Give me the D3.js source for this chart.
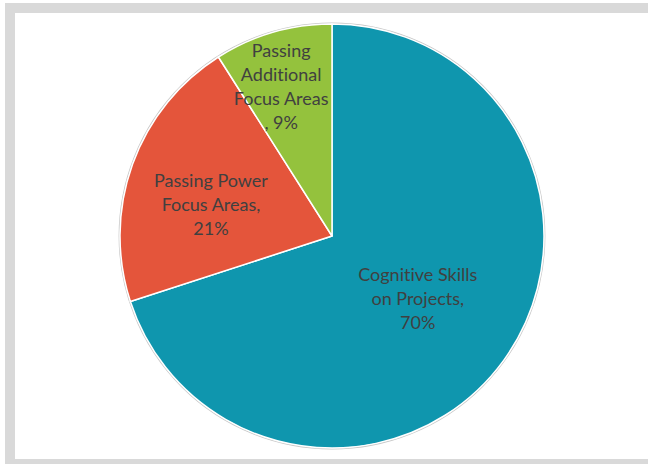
<!DOCTYPE html>
<html>
<head>
<meta charset="utf-8">
<script src="https://cdn.jsdelivr.net/npm/d3@7"></script>
<style>
html,body{margin:0;padding:0;background:#fff;}
svg{display:block;}
text{font-variant-ligatures:none;font-feature-settings:"liga" 0;}
</style>
</head>
<body>
<svg id="chart" width="648" height="464"></svg>
<script>
const categories = ["Cognitive Skills on Projects", "Passing Power Focus Areas", "Passing Additional Focus Areas"];
const values = [70, 21, 9];
const labelLines = [
  ["Cognitive Skills", "on Projects,", "70%"],
  ["Passing Power", "Focus Areas,", "21%"],
  ["Passing", "Additional", "Focus Areas", ", 9%"]
];
const colors = ["#0f96ae", "#e4553b", "#94c23d"];

const W = 648, H = 464;
const svg = d3.select("#chart");

// frame
svg.append("rect")
  .attr("x", 10).attr("y", 8)
  .attr("width", W + 20).attr("height", 456)
  .attr("fill", "none")
  .attr("stroke", "#d9d9d9")
  .attr("stroke-width", 10);

const cx = 332, cy = 236, R = 212;
const g = svg.append("g").attr("transform", `translate(${cx},${cy})`);

const pie = d3.pie().sort(null).value(d => d.value);
const data = pie(categories.map((c, i) => ({cat: c, value: values[i], lines: labelLines[i], color: colors[i]})));

const arc = d3.arc().innerRadius(0).outerRadius(R);

// outer soft outline
g.append("circle").attr("r", R + 0.8).attr("fill", "none").attr("stroke", "#c8c8c8").attr("stroke-width", 1.2);

g.selectAll("path.slice").data(data).enter().append("path")
  .attr("class", "slice")
  .attr("d", arc)
  .attr("fill", d => d.data.color)
  .attr("stroke", "#ffffff")
  .attr("stroke-width", 1.5)
  .attr("stroke-linejoin", "round");

// label placement: radius fraction and angle shift (radians) relative to slice bisector
const labelRadiusFrac = [0.5, 0.59, 0.745];
const labelAngleShift = [0, -0.09, -0.045];
const lineH = 24;

data.forEach((d, i) => {
  const a = (d.startAngle + d.endAngle) / 2 + labelAngleShift[i];
  const r = R * labelRadiusFrac[i];
  const x = Math.sin(a) * r;
  const y = -Math.cos(a) * r;
  const n = d.data.lines.length;
  const t = g.append("text")
    .attr("x", x).attr("y", y)
    .attr("text-anchor", "middle")
    .attr("font-family", "Lato, 'Open Sans', sans-serif")
    .attr("font-size", 18)
    .attr("fill", "#404040");
  d.data.lines.forEach((ln, j) => {
    t.append("tspan")
      .attr("x", x)
      .attr("y", y + (j - (n - 1) / 2) * lineH)
      .attr("dy", "0.35em")
      .text(ln);
  });
});
</script>
</body>
</html>
